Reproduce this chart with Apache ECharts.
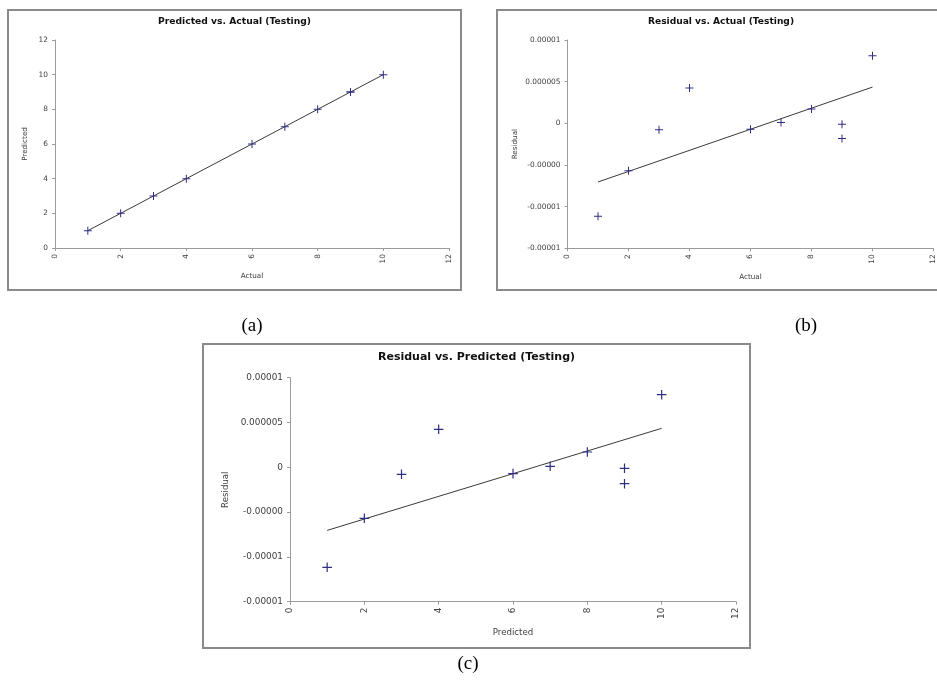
<!DOCTYPE html>
<html>
<head>
<meta charset="utf-8">
<script src="https://cdn.jsdelivr.net/npm/echarts@6/dist/echarts.min.js"></script>
<style>
html,body{margin:0;padding:0;background:#fff;}
#chart{width:937px;height:681px;}
</style>
</head>
<body>
<div id="chart"></div>
<script>
// ---- data ----
const actual = [1, 2, 3, 4, 6, 7, 8, 9, 9, 10];
const predicted = [1, 2, 3, 4, 6, 7, 8, 9, 9, 10];
const residual = [-0.00001116, -0.00000569, -0.00000078, 0.00000424, -0.00000071,
                  0.00000011, 0.00000171, -0.00000011, -0.00000183, 0.0000081];
const trendPredX = [1, 10];
const trendPredY = [1, 10];
const trendResX = [1, 10];
const trendResY = [-0.00000704, 0.00000435];
const axis12Labels = ['0', '2', '4', '6', '8', '10', '12'];
const residualTickLabels = ['-0.00001', '-0.00001', '-0.00000', '0', '0.000005', '0.00001'];
const titles = ['Predicted vs. Actual (Testing)', 'Residual vs. Actual (Testing)', 'Residual vs. Predicted (Testing)'];
const xNames = ['Actual', 'Actual', 'Predicted'];
const yNames = ['Predicted', 'Residual', 'Residual'];
const captions = ['(a)', '(b)', '(c)'];

const FONT = 'DejaVu Sans';
const MARK = '#2e2e84';
const LINE = '#3a3a3a';
const AXIS = '#9b9b9b';
const TXT = '#404040';
const PLUS = 'path://M7,0H9V7H16V9H9V16H7V9H0V7H7Z';

const resMin = -0.000015, resMax = 0.00001, resInt = 0.000005;

function pairs(xs, ys) { return xs.map((x, i) => [x, ys[i]]); }

const grids = [
  {left: 55, top: 40, width: 394, height: 208},
  {left: 567.5, top: 40, width: 367, height: 208.3},
  {left: 290, top: 377.7, width: 446, height: 224}
];
const scale = [1, 1, 1.2];
const yNameGap = [26, 49, 60];
const xNameGap = [25, 25, 27];

const xAxes = grids.map((g, i) => ({
  type: 'value', gridIndex: i, min: 0, max: 12, interval: 2,
  name: xNames[i], nameLocation: 'middle', nameGap: xNameGap[i],
  nameTextStyle: {fontFamily: FONT, fontSize: 7.2 * scale[i], color: TXT},
  axisLine: {show: true, onZero: false, lineStyle: {color: AXIS, width: 1}},
  axisTick: {show: true, inside: false, length: 3, lineStyle: {color: AXIS}},
  splitLine: {show: false},
  axisLabel: {rotate: 90, margin: 6, fontFamily: FONT, fontSize: 7.4 * scale[i], color: TXT,
    formatter: v => axis12Labels[Math.round(v / 2)]}
}));

const yAxes = grids.map((g, i) => {
  const isRes = i > 0;
  return {
    type: 'value', gridIndex: i,
    min: isRes ? resMin : 0, max: isRes ? resMax : 12, interval: isRes ? resInt : 2,
    name: yNames[i], nameLocation: 'middle', nameGap: yNameGap[i], nameRotate: 90,
    nameTextStyle: {fontFamily: FONT, fontSize: 7.2 * scale[i], color: TXT},
    axisLine: {show: true, onZero: false, lineStyle: {color: AXIS, width: 1}},
    axisTick: {show: true, inside: false, length: 3, lineStyle: {color: AXIS}},
    splitLine: {show: false},
    axisLabel: {margin: 7, fontFamily: FONT, fontSize: 7.4 * scale[i], color: TXT,
      formatter: v => isRes ? residualTickLabels[Math.round((v - resMin) / resInt)] : axis12Labels[Math.round(v / 2)]}
  };
});

const series = [];
const xs = [actual, actual, predicted];
const ys = [predicted, residual, residual];
const tx = [trendPredX, trendResX, trendResX];
const ty = [trendPredY, trendResY, trendResY];
for (let i = 0; i < 3; i++) {
  series.push({
    type: 'line', xAxisIndex: i, yAxisIndex: i, data: pairs(tx[i], ty[i]),
    showSymbol: false, symbol: 'none', lineStyle: {color: LINE, width: 1}, z: 2, silent: true
  });
  series.push({
    type: 'scatter', xAxisIndex: i, yAxisIndex: i, data: pairs(xs[i], ys[i]),
    symbol: PLUS, symbolSize: 8 * scale[i], itemStyle: {color: MARK, opacity: 1}, z: 3, silent: true
  });
}

const titleCfg = [
  {cx: 234.5, top: 17.5, fs: 9.2},
  {cx: 721, top: 17.5, fs: 9.1},
  {cx: 476.5, top: 351.5, fs: 11}
];

const option = {
  animation: false,
  backgroundColor: '#fff',
  title: titleCfg.map((t, i) => ({
    text: titles[i], left: t.cx, top: t.top, textAlign: 'center', padding: 0,
    textStyle: {fontFamily: FONT, fontWeight: 'bold', fontSize: t.fs, color: '#111'}
  })),
  grid: grids,
  xAxis: xAxes,
  yAxis: yAxes,
  series: series,
  graphic: [
    {type: 'rect', shape: {x: 8, y: 10, width: 453, height: 280}, style: {fill: 'none', stroke: '#8a8a8a', lineWidth: 2}, silent: true, z: 10},
    {type: 'rect', shape: {x: 497, y: 10, width: 453, height: 280}, style: {fill: 'none', stroke: '#8a8a8a', lineWidth: 2}, silent: true, z: 10},
    {type: 'rect', shape: {x: 203, y: 344, width: 547, height: 304}, style: {fill: 'none', stroke: '#8a8a8a', lineWidth: 2}, silent: true, z: 10},
    {type: 'text', x: 252, y: 326, style: {text: captions[0], font: '19px "Liberation Serif"', fill: '#000', textAlign: 'center', textVerticalAlign: 'middle'}},
    {type: 'text', x: 806, y: 326, style: {text: captions[1], font: '19px "Liberation Serif"', fill: '#000', textAlign: 'center', textVerticalAlign: 'middle'}},
    {type: 'text', x: 468, y: 664, style: {text: captions[2], font: '19px "Liberation Serif"', fill: '#000', textAlign: 'center', textVerticalAlign: 'middle'}}
  ]
};

const chart = echarts.init(document.getElementById('chart'), null, {renderer: 'canvas'});
chart.setOption(option);
</script>
</body>
</html>
